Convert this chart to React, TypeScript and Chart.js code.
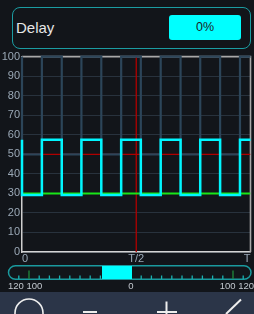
import React, { useEffect, useRef } from "react";
import { Chart, registerables } from "chart.js";

Chart.register(...registerables);

// Time axis runs 0..100 (0 = "0", 50 = "T/2", 100 = "T")
const xTickValues = [0, 50, 100];
const xTickLabels = ["0", "T/2", "T"];
const yTickStep = 10;

// Edge times of the two square waves (stepped 'before': level starts at that time)
const edgeTimes = [0, 0, 8.7, 17.4, 26.0, 34.7, 43.4, 52.0, 60.7, 69.4, 78.0, 86.7, 95.4, 100];
// Input (slate) wave levels
const inputLevels = [100, 50, 100, 50, 100, 50, 100, 50, 100, 50, 100, 50, 100, 100];
// Output (cyan) wave levels
const outputLevels = [57.5, 29.2, 57.5, 29.2, 57.5, 29.2, 57.5, 29.2, 57.5, 29.2, 57.5, 29.2, 57.5, 57.5];
// Green reference level
const refLevel = 30;
// Red cursor lines
const triggerLevel = 50;
const cursorTime = 50;

// Slider labels
const sliderLeftLabel = "120 100";
const sliderCenterLabel = "0";
const sliderRightLabel = "100 120";

const BG = "#12151a";

function ChartView() {
  const ref = useRef<HTMLCanvasElement | null>(null);
  useEffect(() => {
    const canvas = ref.current;
    if (!canvas) return;
    const pts = (xs: number[], ys: number[]) => xs.map((x, i) => ({ x, y: ys[i] }));
    const chart = new Chart(canvas, {
      type: "line",
      data: {
        datasets: [
          {
            data: pts(edgeTimes, outputLevels),
            borderColor: "#00f6ff",
            borderWidth: 2.5,
            stepped: "before",
            pointRadius: 0,
            order: 0,
            clip: false,
          },
          {
            data: [
              { x: 0, y: refLevel },
              { x: 100, y: refLevel },
            ],
            borderColor: "#19e619",
            borderWidth: 2,
            pointRadius: 0,
            order: 1,
          },
          {
            data: pts(edgeTimes, inputLevels),
            borderColor: "#2c4559",
            borderWidth: 2.2,
            stepped: "before",
            pointRadius: 0,
            order: 2,
            clip: false,
          },
          {
            data: [
              { x: 0, y: triggerLevel },
              { x: 100, y: triggerLevel },
            ],
            borderColor: "#b00000",
            borderWidth: 1.3,
            pointRadius: 0,
            order: 3,
          },
          {
            data: [
              { x: cursorTime, y: 0 },
              { x: cursorTime, y: 100 },
            ],
            borderColor: "#b00000",
            borderWidth: 1.3,
            pointRadius: 0,
            order: 3,
          },
          {
            data: [
              { x: 0, y: 100 },
              { x: 100, y: 100 },
              { x: 100, y: 0 },
            ],
            borderColor: "#a9a9a9",
            borderWidth: 1.6,
            pointRadius: 0,
            order: 4,
            clip: false,
          },
        ],
      },
      options: {
        responsive: false,
        animation: false,
        events: [],
        layout: { padding: { left: 0, right: 3.5, top: 7, bottom: 0 } },
        plugins: { legend: { display: false }, tooltip: { enabled: false } },
        scales: {
          x: {
            type: "linear",
            min: 0,
            max: 100,
            afterBuildTicks: (s: any) => {
              s.ticks = xTickValues.map((v) => ({ value: v }));
            },
            afterFit: (s: any) => {
              s.height = 14;
            },
            ticks: {
              align: "inner",
              padding: 0,
              maxRotation: 0,
              autoSkip: false,
              color: "#9aa8b6",
              font: { family: "Liberation Sans, Arial, sans-serif", size: 11 },
              callback: (v: any) => {
                const i = xTickValues.indexOf(Number(v));
                return i >= 0 ? xTickLabels[i] : "";
              },
            },
            grid: { display: false, drawTicks: false },
            border: { display: true, color: "#d4d4d4", width: 1.5 },
          },
          y: {
            min: 0,
            max: 100,
            afterFit: (s: any) => {
              s.width = 22;
            },
            ticks: {
              stepSize: yTickStep,
              padding: 2,
              color: "#9aa8b6",
              font: { family: "Liberation Sans, Arial, sans-serif", size: 11 },
            },
            grid: { color: "#28323d", lineWidth: 1, drawTicks: false },
            border: { display: true, color: "#cfcfcf", width: 1.5 },
          },
        },
      },
    } as any);
    return () => chart.destroy();
  }, []);
  return (
    <canvas
      ref={ref}
      width={254}
      height={218}
      style={{ position: "absolute", left: 0, top: 48, width: 254, height: 218 }}
    />
  );
}

export default function App() {
  const font = "Liberation Sans, Arial, sans-serif";
  const ticksX: number[] = [];
  for (let k = -1; k <= 21; k++) ticksX.push(29 + 10.2 * k);
  return (
    <div
      style={{
        position: "fixed",
        left: 0,
        top: 0,
        width: 254,
        height: 314,
        background: BG,
        overflow: "hidden",
        fontFamily: font,
      }}
    >
      {/* Top panel */}
      <div
        style={{
          position: "absolute",
          left: 11.5,
          top: 6.5,
          width: 239,
          height: 42,
          border: "1.5px solid #1b9ca2",
          borderRadius: 8,
          boxSizing: "border-box",
        }}
      />
      <div
        style={{
          position: "absolute",
          left: 16,
          top: 18,
          height: 20,
          lineHeight: "20px",
          fontSize: 15,
          color: "#e6e6e6",
        }}
      >
        Delay
      </div>
      <div
        style={{
          position: "absolute",
          left: 169,
          top: 15,
          width: 72,
          height: 25,
          background: "#00ffff",
          borderRadius: 3,
          color: "#1c1c1c",
          fontSize: 12.5,
          lineHeight: "25px",
          textAlign: "center",
        }}
      >
        0%
      </div>

      <ChartView />

      {/* Slider */}
      <svg
        width={254}
        height={30}
        style={{ position: "absolute", left: 0, top: 262 }}
      >
        <rect
          x={8.5}
          y={3.75}
          width={242.5}
          height={13.5}
          rx={7}
          ry={7}
          fill="none"
          stroke="#1a9a9e"
          strokeWidth={1.5}
        />
        {ticksX.map((x, i) => {
          const green = i === 1 || i === 21;
          return (
            <line
              key={i}
              x1={x}
              x2={x}
              y1={green ? 8.5 : 13.5}
              y2={17}
              stroke={green ? "#1f8a3c" : "#19b3b3"}
              strokeWidth={1.3}
            />
          );
        })}
        <rect x={102} y={4} width={30} height={13} fill="#00ffff" />
      </svg>
      <div
        style={{
          position: "absolute",
          left: 8,
          top: 280,
          fontSize: 9.5,
          lineHeight: "11px",
          color: "#c2c8cf",
        }}
      >
        {sliderLeftLabel}
      </div>
      <div
        style={{
          position: "absolute",
          left: 121,
          width: 20,
          textAlign: "center",
          top: 280,
          fontSize: 9.5,
          lineHeight: "11px",
          color: "#c2c8cf",
        }}
      >
        {sliderCenterLabel}
      </div>
      <div
        style={{
          position: "absolute",
          right: 0,
          top: 280,
          fontSize: 9.5,
          lineHeight: "11px",
          color: "#c2c8cf",
          whiteSpace: "nowrap",
        }}
      >
        {sliderRightLabel}
      </div>

      {/* Toolbar */}
      <div
        style={{
          position: "absolute",
          left: 0,
          top: 292,
          width: 254,
          height: 22,
          background: "#2b3548",
        }}
      />
      <svg width={254} height={22} style={{ position: "absolute", left: 0, top: 292 }}>
        <circle cx={29} cy={21} r={14} fill="none" stroke="#eeeeee" strokeWidth={1.6} />
        <line x1={83} x2={97} y1={20} y2={20} stroke="#eeeeee" strokeWidth={2} />
        <line x1={157} x2={177} y1={20} y2={20} stroke="#eeeeee" strokeWidth={2} />
        <line x1={166.5} x2={166.5} y1={9.5} y2={22} stroke="#eeeeee" strokeWidth={2} />
        <line x1={241} x2={226} y1={7.5} y2={22} stroke="#eeeeee" strokeWidth={2} />
      </svg>
    </div>
  );
}
